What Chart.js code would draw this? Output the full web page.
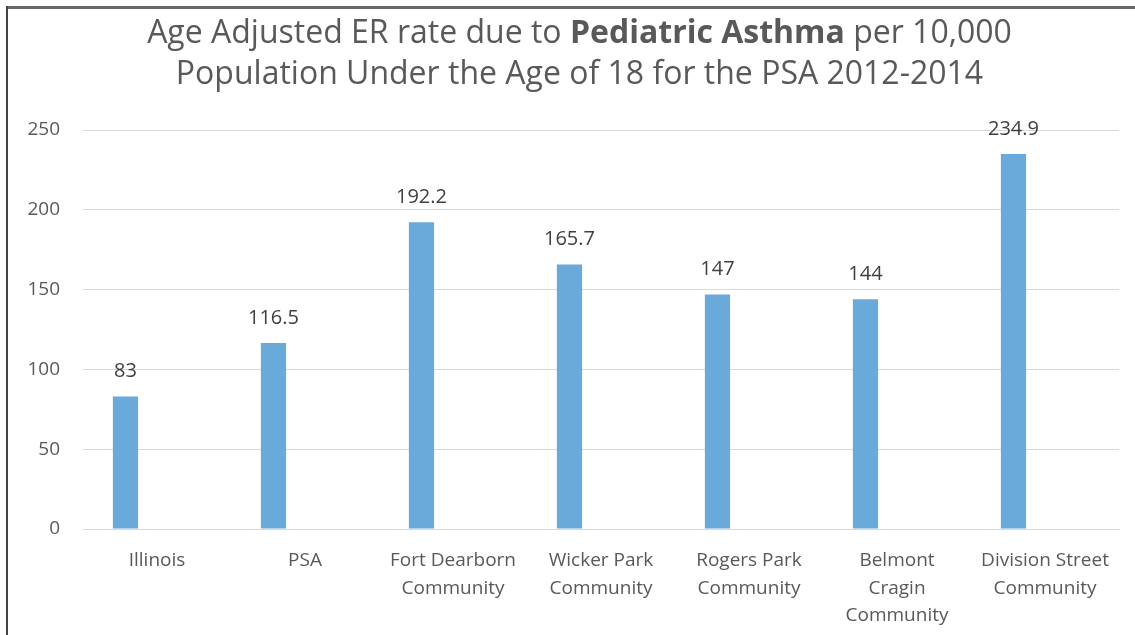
<!DOCTYPE html>
<html>
<head>
<meta charset="utf-8">
<script src="https://cdn.jsdelivr.net/npm/chart.js@4/dist/chart.umd.min.js"></script>
<style>
  html, body { margin: 0; padding: 0; background: #fff; }
  #wrap { position: relative; width: 1135px; height: 635px; overflow: hidden; }
  #topline { position: absolute; left: 6px; top: 6px; width: 1129px; height: 3px; background: #666; }
  #leftline { position: absolute; left: 6px; top: 6px; width: 2px; height: 629px; background: #444; }
  #title { position: absolute; left: 24px; top: 10px; width: 1111px; text-align: center;
           font-family: "Open Sans", sans-serif; font-size: 32px; line-height: 41px; color: #595959; }
  canvas { position: absolute; left: 0; top: 0; }
</style>
</head>
<body>
<div id="wrap">
  <canvas id="c" width="1135" height="635"></canvas>
  <div id="topline"></div>
  <div id="leftline"></div>
  <div id="title">Age Adjusted ER rate due to <b>Pediatric Asthma</b> per 10,000<br>Population Under the Age of 18 for the PSA 2012-2014</div>
</div>
<script>
const categories = [
  ["Illinois"],
  ["PSA"],
  ["Fort Dearborn", "Community"],
  ["Wicker Park", "Community"],
  ["Rogers Park", "Community"],
  ["Belmont", "Cragin", "Community"],
  ["Division Street", "Community"]
];
const erRates = [83, 116.5, 192.2, 165.7, 147, 144, 234.9];
const valueLabels = ["83", "116.5", "192.2", "165.7", "147", "144", "234.9"];
const yTicks = [0, 50, 100, 150, 200, 250];

const valueLabelPlugin = {
  id: 'valueLabels',
  afterDatasetsDraw(chart) {
    const ctx = chart.ctx;
    const meta = chart.getDatasetMeta(0);
    ctx.save();
    ctx.font = '20px "Open Sans", sans-serif';
    ctx.fillStyle = '#404040';
    ctx.textAlign = 'center';
    ctx.textBaseline = 'middle';
    meta.data.forEach((bar, i) => {
      ctx.fillText(valueLabels[i], bar.x, bar.y - 25);
    });
    ctx.restore();
  }
};

new Chart(document.getElementById('c'), {
  type: 'bar',
  data: {
    labels: categories,
    datasets: [
      { data: erRates, backgroundColor: '#6aaadb', borderWidth: 0 },
      { data: erRates.map(() => null), backgroundColor: 'rgba(0,0,0,0)' }
    ]
  },
  options: {
    responsive: false,
    animation: false,
    events: [],
    categoryPercentage: 0.852,
    barPercentage: 0.4,
    layout: { padding: { left: 0, right: 16, top: 130, bottom: 0 } },
    plugins: { legend: { display: false }, tooltip: { enabled: false }, title: { display: false } },
    scales: {
      x: {
        grid: { display: false, drawTicks: false },
        border: { display: true, color: '#d9d9d9', width: 1 },
        ticks: {
          color: '#595959',
          font: { family: '"Open Sans", sans-serif', size: 19, lineHeight: 1.45 },
          padding: 18,
          maxRotation: 0,
          autoSkip: false
        },
        afterFit(scale) { scale.height = 106; }
      },
      y: {
        min: 0, max: 250,
        afterBuildTicks(scale) { scale.ticks = yTicks.map(v => ({ value: v })); },
        grid: { color: '#d9d9d9', drawTicks: false },
        border: { display: false },
        ticks: {
          color: '#595959',
          font: { family: '"Open Sans", sans-serif', size: 19 },
          padding: 23
        },
        afterFit(scale) { scale.width = 83; }
      }
    }
  },
  plugins: [valueLabelPlugin]
});
</script>
</body>
</html>
